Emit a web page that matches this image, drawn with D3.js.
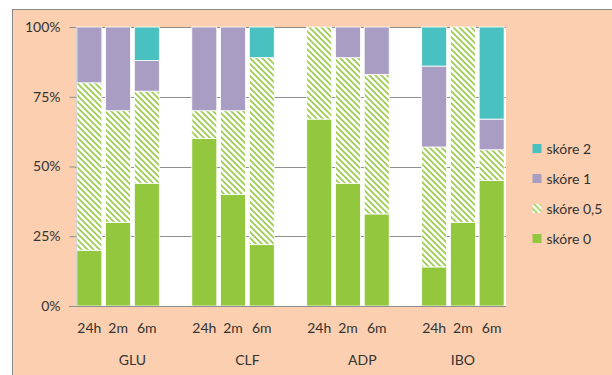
<!DOCTYPE html>
<html>
<head>
<meta charset="utf-8">
<script src="https://cdn.jsdelivr.net/npm/d3@7"></script>
<style>
  html, body { margin: 0; padding: 0; background: #ffffff; }
  svg { display: block; }
  text { font-family: Lato, "Liberation Sans", sans-serif; fill: #333333; }
</style>
</head>
<body>
<svg id="chart" width="612" height="375"></svg>
<script>
// Groups (treatments) and time points shown under each bar
const groups = ["GLU", "CLF", "ADP", "IBO"];
const times = ["24h", "2m", "6m"];

// Share of each score (%), one value per group/time bar, in order GLU..IBO × 24h,2m,6m
const score0  = [20, 30, 44,  60, 40, 22,  67, 44, 33,  14, 30, 45];
const score05 = [60, 40, 33,  10, 30, 67,  33, 45, 50,  43, 70, 11];
const score1  = [20, 30, 11,  30, 30,  0,   0, 11, 17,  29,  0, 11];
const score2  = [ 0,  0, 12,   0,  0, 11,   0,  0,  0,  14,  0, 33];

const seriesNames = ["skóre 0", "skóre 0,5", "skóre 1", "skóre 2"];
const yTicks = [0, 25, 50, 75, 100];

const colors = {
  "skóre 0": "#93c83e",
  "skóre 0,5": "url(#hatch)",
  "skóre 1": "#a99dc3",
  "skóre 2": "#4ac1c1"
};

const svg = d3.select("#chart");
const W = 612, H = 375;
const plot = { left: 75, right: 506, top: 27, bottom: 306 };

// Hatch fill: green downward diagonal stripes on white
const defs = svg.append("defs");
const pat = defs.append("pattern")
  .attr("id", "hatch")
  .attr("patternUnits", "userSpaceOnUse")
  .attr("width", 6).attr("height", 6);
pat.append("rect").attr("width", 6).attr("height", 6).attr("fill", "#ffffff");
pat.append("path")
  .attr("d", "M-1,-1 L7,7 M-1,5 L1,7 M5,-1 L7,1")
  .attr("stroke", "#9ccd50").attr("stroke-width", 1.7);

// Chart background
svg.append("rect").attr("width", W).attr("height", H).attr("fill", "#ffffff");
svg.append("rect")
  .attr("x", 12.5).attr("y", 9.5)
  .attr("width", W).attr("height", H)
  .attr("fill", "#fbcfaf")
  .attr("stroke", "#8a8a8a").attr("stroke-width", 1);

// Plot area
svg.append("rect")
  .attr("x", plot.left).attr("y", plot.top)
  .attr("width", plot.right - plot.left).attr("height", plot.bottom - plot.top)
  .attr("fill", "#ffffff");

// Category slots: three bars per group, with an empty slot between groups
const rows = [];
const slots = [];
groups.forEach((g, gi) => {
  times.forEach((t, ti) => {
    const i = gi * times.length + ti;
    const key = g + "|" + t;
    slots.push(key);
    rows.push({
      key, group: g, time: t,
      "skóre 0": score0[i],
      "skóre 0,5": score05[i],
      "skóre 1": score1[i],
      "skóre 2": score2[i]
    });
  });
  if (gi < groups.length - 1) slots.push(g + "|gap");
});

const x = d3.scaleBand()
  .domain(slots)
  .range([plot.left, plot.right])
  .paddingInner(0.13)
  .paddingOuter(0.065);

const y = d3.scaleLinear().domain([0, 100]).range([plot.bottom, plot.top]);

// Horizontal gridlines
svg.append("g")
  .selectAll("line")
  .data(yTicks.filter(d => d > 0))
  .join("line")
  .attr("x1", plot.left).attr("x2", plot.right)
  .attr("y1", d => Math.round(y(d)) + 0.5).attr("y2", d => Math.round(y(d)) + 0.5)
  .attr("stroke", "#8e8e8e").attr("stroke-width", 1);

// Stacked bars
const stacked = d3.stack().keys(seriesNames)(rows);
svg.append("g")
  .selectAll("g")
  .data(stacked)
  .join("g")
  .attr("fill", d => colors[d.key])
  .selectAll("rect")
  .data(d => d.filter(s => s[1] - s[0] > 0))
  .join("rect")
  .attr("x", d => x(d.data.key))
  .attr("width", x.bandwidth())
  .attr("y", d => y(d[1]))
  .attr("height", d => y(d[0]) - y(d[1]))
  .attr("stroke", "#ffffff")
  .attr("stroke-width", 0.8);

// Y axis
const yAxis = svg.append("g")
  .attr("transform", `translate(${plot.left + 0.5},0)`)
  .call(d3.axisLeft(y).tickValues(yTicks).tickSize(6).tickPadding(9).tickFormat(d => d + "%"));
yAxis.select(".domain").attr("stroke", "#b0b0b0");
yAxis.selectAll(".tick line").attr("stroke", "#8e8e8e");
yAxis.selectAll(".tick text")
  .attr("font-size", 14)
  .attr("font-family", "Lato, sans-serif")
  .attr("fill", "#333333");

// X axis line at 0%
svg.append("line")
  .attr("x1", plot.left - 6).attr("x2", plot.right)
  .attr("y1", Math.round(y(0)) + 0.5).attr("y2", Math.round(y(0)) + 0.5)
  .attr("stroke", "#8e8e8e");

// Time labels under bars
svg.append("g")
  .selectAll("text")
  .data(rows)
  .join("text")
  .attr("x", d => x(d.key) + x.bandwidth() / 2)
  .attr("y", 332.5)
  .attr("text-anchor", "middle")
  .attr("font-size", 14)
  .text(d => d.time);

// Group labels, centred on each group's span of slots
svg.append("g")
  .selectAll("text")
  .data(groups)
  .join("text")
  .attr("x", (g, gi) => {
    const first = x(g + "|" + times[0]) - x.step() * x.paddingInner() / 2;
    const lastKey = gi < groups.length - 1 ? g + "|gap" : g + "|" + times[times.length - 1];
    const last = x(lastKey) + x.bandwidth() + x.step() * x.paddingInner() / 2;
    return (first + last) / 2;
  })
  .attr("y", 365)
  .attr("text-anchor", "middle")
  .attr("font-size", 14)
  .text(d => d);

// Legend (top to bottom: highest score first)
const legendItems = seriesNames.slice().reverse();
const legend = svg.append("g")
  .selectAll("g")
  .data(legendItems)
  .join("g")
  .attr("transform", (d, i) => `translate(532.5, ${148.5 + i * 30})`);
legend.append("rect")
  .attr("x", 0).attr("y", -4.5)
  .attr("width", 9).attr("height", 9)
  .attr("fill", d => colors[d]);
legend.append("text")
  .attr("x", 14).attr("y", 5)
  .attr("font-size", 14)
  .text(d => d);
</script>
</body>
</html>
